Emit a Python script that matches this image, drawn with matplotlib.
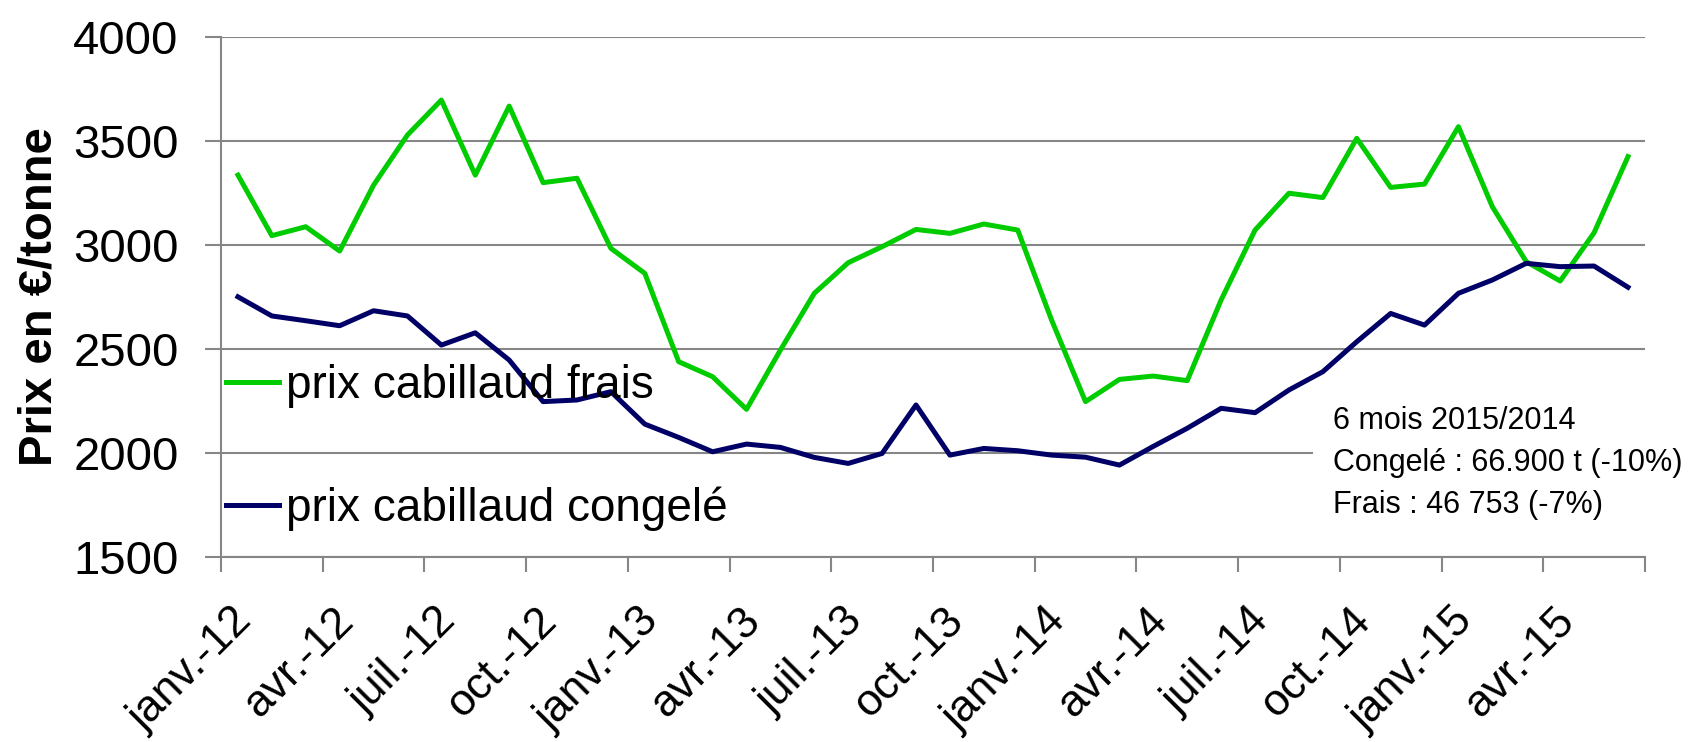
import numpy as np
import matplotlib.pyplot as plt
from matplotlib.transforms import ScaledTranslation

plt.rcParams['font.family'] = ['Liberation Sans', 'DejaVu Sans']

# mois de janv.-12 a juin-15
mois_fr = ['janv.', 'févr.', 'mars', 'avr.', 'mai', 'juin',
           'juil.', 'août', 'sept.', 'oct.', 'nov.', 'déc.']
annees = ['12', '13', '14', '15']
mois = [m + '-' + a for a in annees for m in mois_fr][:42]

# prix en euros/tonne
frais = [3336, 3045, 3088, 2971, 3288, 3529, 3697, 3336, 3668, 3300,
         3321, 2984, 2864, 2439, 2367, 2210, 2495, 2768, 2915, 2992,
         3075, 3056, 3101, 3072, 2639, 2247, 2354, 2370, 2348, 2736,
         3072, 3249, 3228, 3513, 3277, 3293, 3569, 3184, 2920, 2827,
         3059, 3425]
congele = [2751, 2659, 2636, 2612, 2684, 2659, 2519, 2578, 2447, 2247,
           2255, 2295, 2139, 2075, 2006, 2043, 2027, 1979, 1950, 1998,
           2231, 1990, 2022, 2011, 1990, 1980, 1942, 2032, 2119, 2215,
           2194, 2303, 2391, 2535, 2671, 2615, 2768, 2832, 2912, 2896,
           2899, 2797]

note = '6 mois 2015/2014\nCongelé : 66.900 t (-10%)\nFrais : 46 753 (-7%)'

gris = '#868686'

fig = plt.figure(figsize=(17, 7.42), dpi=100)
ax = fig.add_axes([0.130, 0.2493, 0.8376, 0.7008])

x = np.arange(len(mois))
ax.plot(x, frais, color='#00cc00', lw=3.6, label='prix cabillaud frais', zorder=3)
ax.plot(x, congele, color='#000066', lw=3.6, label='prix cabillaud congelé', zorder=3)

ax.set_xlim(-0.5, len(mois) - 0.5)
ax.set_ylim(1500, 4000)
ax.set_yticks([1500, 2000, 2500, 3000, 3500, 4000])
ax.yaxis.grid(True, color=gris, lw=1.5)
ax.set_axisbelow(True)

# etiquettes tous les 3 mois, traits entre les categories
ax.set_xticks(x[::3])
ax.set_xticklabels([mois[i] for i in x[::3]], rotation=45, ha='right',
                   va='top', rotation_mode='anchor', fontsize=32)
ax.set_xticks(np.arange(-0.5, len(mois), 3), minor=True)
ax.tick_params(axis='x', which='major', length=0, pad=31)
ax.tick_params(axis='x', which='minor', length=10.5, width=1.5, color=gris)
ax.tick_params(axis='y', length=11.5, width=1.5, color=gris, labelsize=34, pad=19)
off = ScaledTranslation(-7 / 100, 0, fig.dpi_scale_trans)
for lab in ax.get_xticklabels():
    lab.set_transform(lab.get_transform() + off)

for s in ['top', 'right']:
    ax.spines[s].set_visible(False)
for s in ['left', 'bottom']:
    ax.spines[s].set_color(gris)
    ax.spines[s].set_linewidth(1.5)

fig.text(0.0235, 1 - 297 / 742, 'Prix en €/tonne', rotation=90, ha='center',
         va='center', fontsize=34, fontweight='bold')

ax.legend(loc='upper left', bbox_to_anchor=(0.0035, 0.371), frameon=False,
          fontsize=33, handlelength=1.16, handletextpad=0.15,
          labelspacing=1.71, borderpad=0, borderaxespad=0)

ax.text(0.7809, 0.2904, note, transform=ax.transAxes, ha='left', va='top',
        fontsize=22, linespacing=1.52, zorder=5,
        bbox=dict(boxstyle='square,pad=0.65', fc='white', ec='none'))

fig.savefig('out.png', dpi=100)
